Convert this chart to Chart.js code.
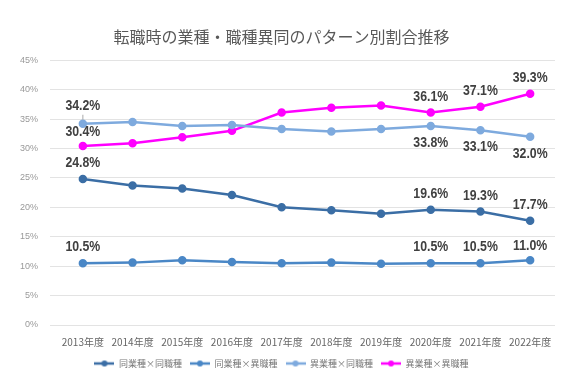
<!DOCTYPE html>
<html><head><meta charset="utf-8">
<script src="https://cdn.jsdelivr.net/npm/chart.js@4/dist/chart.umd.min.js"></script>
<style>html,body{margin:0;padding:0;background:#fff}#wrap{width:567px;height:381px}</style>
</head><body><div id="wrap"><canvas id="c"></canvas></div>
<script>
const categories = ["2013年度","2014年度","2015年度","2016年度","2017年度","2018年度","2019年度","2020年度","2021年度","2022年度"];
const seriesNames = ["同業種×同職種","同業種×異職種","異業種×同職種","異業種×異職種"];
const sameSame = [24.8,23.7,23.2,22.1,20.0,19.5,18.9,19.6,19.3,17.7];
const sameDiff = [10.5,10.6,11.0,10.7,10.5,10.6,10.4,10.5,10.5,11.0];
const diffSame = [34.2,34.5,33.8,34.0,33.3,32.9,33.3,33.8,33.1,32.0];
const diffDiff = [30.4,30.9,31.9,33.0,36.1,36.9,37.3,36.1,37.1,39.3];
const yTicks = [0,5,10,15,20,25,30,35,40,45];
const labelIdx = [0,7,8,9];
const colors = ["#3b6ea5","#4a87c6","#7eaade","#ff00ff"];
// label offsets in px (negative = above point)
const labelOffsets = [
  [-16,-16,-16,-16],
  [-16,-16,-16,-14],
  [-18,17,17,17],
  [-14,-16,-16,-16]
];

function legendIcon(color){
  const c=document.createElement('canvas');c.width=20;c.height=8;
  const x=c.getContext('2d');
  x.strokeStyle=color;x.lineWidth=2.5;x.beginPath();x.moveTo(0,4);x.lineTo(20,4);x.stroke();
  x.fillStyle=color;x.beginPath();x.arc(10,4,3,0,Math.PI*2);x.fill();
  return c;
}
const icons=colors.map(legendIcon);

const labelPlugin={
  id:'lbls',
  afterDatasetsDraw(chart){
    const ctx=chart.ctx;
    ctx.save();
    ctx.font='bold 15px "Liberation Sans",sans-serif';
    ctx.fillStyle='#404040';
    ctx.textAlign='center';ctx.textBaseline='middle';
    chart.data.datasets.forEach((ds,di)=>{
      const meta=chart.getDatasetMeta(di);
      labelIdx.forEach((i,k)=>{
        const p=meta.data[i];
        const y=p.y+labelOffsets[di][k];
        ctx.save();
        ctx.translate(p.x,y);
        ctx.scale(0.82,1);
        ctx.fillText(ds.data[i].toFixed(1)+'%',0,0);
        ctx.restore();
      });
    });
    const p=chart.getDatasetMeta(2).data[0];
    ctx.strokeStyle='#aaa';ctx.lineWidth=1;ctx.beginPath();ctx.moveTo(p.x,p.y-9);ctx.lineTo(p.x,p.y-4);ctx.stroke();
    ctx.restore();
  }
};

const allSeries=[sameSame,sameDiff,diffSame,diffDiff];
new Chart(document.getElementById('c'),{
  type:'line',
  data:{labels:categories,datasets:allSeries.map((d,i)=>({
    label:seriesNames[i],data:d,borderColor:colors[i],backgroundColor:colors[i],
    borderWidth:2.5,pointRadius:3,pointHoverRadius:3,tension:0,pointStyle:'circle'
  }))},
  options:{
    responsive:true,maintainAspectRatio:false,animation:false,
    layout:{padding:{left:8,right:12,top:27,bottom:3}},
    plugins:{
      title:{display:true,text:'転職時の業種・職種異同のパターン別割合推移',color:'#595959',
        font:{size:16,family:'"Noto Sans CJK JP",sans-serif',weight:'normal'},padding:{top:0,bottom:14}},
      legend:{position:'bottom',labels:{usePointStyle:true,pointStyleWidth:20,color:'#777',
        font:{size:9,family:'"Noto Sans CJK JP",sans-serif'},padding:8,
        generateLabels(chart){
          return chart.data.datasets.map((ds,i)=>({text:ds.label,pointStyle:icons[i],fillStyle:colors[i],strokeStyle:colors[i],lineWidth:0,datasetIndex:i,hidden:false,fontColor:'#777'}));
        }}},
      tooltip:{enabled:false}
    },
    scales:{
      x:{offset:true,grid:{display:false},border:{display:false},
        ticks:{color:'#666',font:{size:10,family:'"Noto Sans CJK JP",sans-serif'},maxRotation:0,autoSkip:false}},
      y:{min:0,max:45,border:{display:false},grid:{color:'#e3e3e3',lineWidth:1},
        afterBuildTicks(s){s.ticks=yTicks.map(v=>({value:v}));},
        ticks:{color:'#999',font:{size:9},callback:v=>v+'%',padding:12}}
    }
  },
  plugins:[labelPlugin]
});
</script></body></html>
